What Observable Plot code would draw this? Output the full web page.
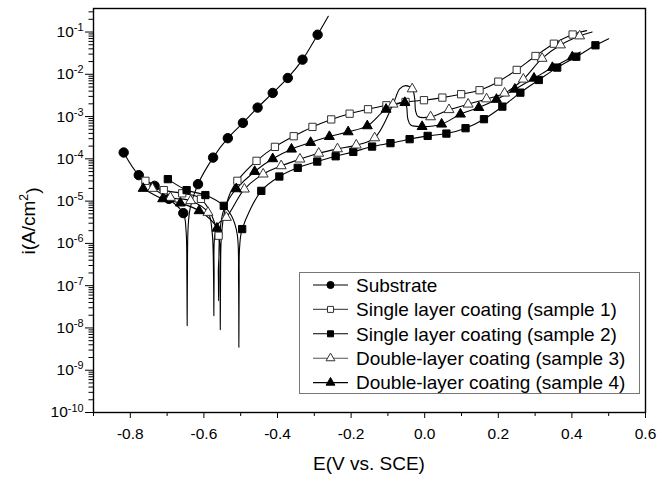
<!DOCTYPE html>
<html><head><meta charset="utf-8">
<script src="https://cdn.jsdelivr.net/npm/d3@7"></script>
<script src="https://cdn.jsdelivr.net/npm/@observablehq/plot@0.6"></script>
<style>
body{margin:0;background:#fff;}
svg{font-family:"Liberation Sans",Arial,sans-serif;}
</style>
</head><body><div id="chart"></div>
<script>
// ---- series names / legend ----
const seriesNames = ["Substrate","Single layer coating (sample 1)","Single layer coating (sample 2)","Double-layer coating (sample 3)","Double-layer coating (sample 4)"];
const seriesSymbols = ["circle","square","square","triangle","triangle"];
const seriesFills = ["black","white","black","white","black"];

// ---- axis ticks ----
const xMajor = [-0.8,-0.6,-0.4,-0.2,0,0.2,0.4,0.6];
const xMinor = [-0.9,-0.7,-0.5,-0.3,-0.1,0.1,0.3,0.5];
const yMajor = [1e-10,1e-9,1e-8,1e-7,1e-6,1e-5,1e-4,1e-3,1e-2,1e-1];
const yMinorMult = [2,3,4,5,6,7,8,9];

// ---- data: E (V vs SCE), i (A/cm2), m = marker shown ----
const subE = [-0.818,-0.777,-0.734,-0.695,-0.656,-0.6485,-0.6462,-0.6455,-0.6448,-0.6428,-0.637,-0.616,-0.575,-0.535,-0.494,-0.454,-0.413,-0.372,-0.332,-0.291,-0.262];
const subI = [1.41e-4,4.12e-5,2.30e-5,1.13e-5,5.2e-6,2.0e-6,1.5e-7,1.13e-8,1.5e-7,2.5e-6,7e-6,2.52e-5,1.07e-4,3.08e-4,7.08e-4,1.63e-3,3.62e-3,8.18e-3,2.22e-2,8.63e-2,0.235];
const subM = [1,1,1,1,1,0,0,0,0,0,0,1,1,1,1,1,1,1,1,1,0];

const s1E = [-0.759,-0.709,-0.659,-0.608,-0.560,-0.5562,-0.5555,-0.5548,-0.553,-0.546,-0.528,-0.509,-0.457,-0.407,-0.356,-0.305,-0.254,-0.204,-0.154,-0.104,-0.052,-0.002,0.048,0.099,0.149,0.200,0.250,0.301,0.351,0.402,0.440];
const s1I = [3.02e-5,1.82e-5,1.53e-5,1.13e-5,1.52e-6,1.2e-7,9.1e-9,1.2e-7,1.2e-6,4.5e-6,1.6e-5,3.02e-5,8.97e-5,1.92e-4,3.43e-4,5.70e-4,8.57e-4,1.17e-3,1.49e-3,1.85e-3,2.22e-3,2.44e-3,2.81e-3,3.38e-3,4.20e-3,6.70e-3,1.27e-2,2.71e-2,5.29e-2,8.73e-2,0.108];
const s1M = [1,1,1,1,1,0,0,0,0,0,0,1,1,1,1,1,1,1,1,1,1,1,1,1,1,1,1,1,1,1,0];

const s2E = [-0.698,-0.647,-0.596,-0.546,-0.525,-0.5095,-0.5058,-0.505,-0.5042,-0.503,-0.496,-0.444,-0.395,-0.345,-0.292,-0.242,-0.194,-0.143,-0.093,-0.041,0.008,0.059,0.111,0.161,0.211,0.260,0.310,0.360,0.412,0.464,0.500];
const s2I = [3.31e-5,1.82e-5,1.39e-5,7.74e-6,4.5e-6,1.66e-6,1.2e-7,3.48e-9,1.2e-7,8e-7,2.18e-6,1.75e-5,3.82e-5,6.13e-5,8.63e-5,1.15e-4,1.46e-4,1.95e-4,2.35e-4,2.92e-4,3.49e-4,3.96e-4,5.31e-4,8.67e-4,1.72e-3,3.68e-3,7.34e-3,1.44e-2,2.61e-2,4.85e-2,6.95e-2];
const s2M = [1,1,1,1,0,0,0,0,0,0,1,1,1,1,1,1,1,1,1,1,1,1,1,1,1,1,1,1,1,1,0];

const s3E = [-0.740,-0.691,-0.636,-0.589,-0.578,-0.5737,-0.573,-0.5723,-0.5705,-0.560,-0.539,-0.490,-0.439,-0.390,-0.339,-0.288,-0.237,-0.186,-0.136,-0.086,-0.068,-0.052,-0.034,-0.027,-0.025,-0.018,0.016,0.066,0.118,0.168,0.217,0.268,0.319,0.369,0.421,0.455];
const s3I = [1.99e-5,1.22e-5,1.02e-5,5.39e-6,2.0e-6,1.5e-7,1.95e-8,1.5e-7,1.5e-6,3.0e-6,4.1e-6,1.92e-5,4.35e-5,6.83e-5,9.83e-5,1.35e-4,1.72e-4,2.11e-4,3.13e-4,1.96e-3,4.5e-3,5.4e-3,4.50e-3,2.6e-3,1.4e-3,1.0e-3,9.82e-4,1.45e-3,1.96e-3,2.61e-3,3.57e-3,7.64e-3,2.37e-2,4.93e-2,8.05e-2,0.1];
const s3M = [1,1,1,1,0,0,0,0,0,0,1,1,1,1,1,1,1,1,1,1,0,0,1,0,0,0,1,1,1,1,1,1,1,1,1,0];

const s4E = [-0.765,-0.712,-0.664,-0.613,-0.5645,-0.5608,-0.560,-0.5592,-0.5575,-0.548,-0.530,-0.512,-0.462,-0.413,-0.362,-0.310,-0.259,-0.208,-0.156,-0.105,-0.054,-0.049,-0.046,-0.038,-0.007,0.046,0.097,0.147,0.195,0.245,0.297,0.347,0.401,0.423];
const s4I = [1.99e-5,1.13e-5,8.97e-6,5.90e-6,2.28e-6,2e-7,4.4e-8,2e-7,1.5e-6,5.5e-6,1.2e-5,1.95e-5,5.01e-5,1.0e-4,1.69e-4,2.43e-4,3.36e-4,4.34e-4,6.02e-4,1.48e-3,2.14e-3,1.7e-3,9e-4,6.3e-4,5.79e-4,6.60e-4,1.14e-3,1.63e-3,2.54e-3,4.42e-3,8.05e-3,1.44e-2,2.56e-2,3.37e-2];
const s4M = [1,1,1,1,1,0,0,0,0,0,0,1,1,1,1,1,1,1,1,1,1,0,0,0,1,1,1,1,1,1,1,1,1,0];

// ---- build table ----
const seriesData = [[subE,subI,subM],[s1E,s1I,s1M],[s2E,s2I,s2M],[s3E,s3I,s3M],[s4E,s4I,s4M]];
const rows = [];
seriesData.forEach(([E,I,M],k) => E.forEach((e,j) => rows.push({s: seriesNames[k], k, E: e, i: I[j], m: M[j]})));

const yMinor = [];
for (const d of yMajor) for (const m of yMinorMult) { const v = d*m; if (v <= 0.36) yMinor.push(v); }

const rFor = {circle: 4.7, square: 4.1, triangle: 3.7};
const dotMarks = seriesNames.map((name,k) => Plot.dot(rows.filter(d => d.k === k && d.m), {
  x: "E", y: "i", symbol: seriesSymbols[k], r: rFor[seriesSymbols[k]],
  fill: seriesFills[k], stroke: seriesFills[k] === "white" ? "#333" : "black", strokeWidth: 1
}));

const chart = Plot.plot({
  width: 668, height: 477,
  marginLeft: 93, marginRight: 23, marginTop: 8, marginBottom: 65,
  x: {domain: [-0.9, 0.6]},
  y: {type: "log", domain: [1e-10, 0.36]},
  style: {fontFamily: "'Liberation Sans', Arial, sans-serif", fontSize: "15.5px", color: "black", background: "white"},
  marks: [
    Plot.axisX(xMajor, {tickSize: 6, tickPadding: 9, tickFormat: d => d.toFixed(1), label: null, fontSize: 15.5}),
    Plot.axisX(xMinor, {tickSize: 4, tickFormat: () => "", label: null}),
    Plot.axisY(yMajor, {tickSize: 8, tickPadding: 2, tickFormat: d => String(Math.round(Math.log10(d))), label: null, fontSize: 15.5}),
    Plot.axisY(yMinor, {tickSize: 4.5, tickFormat: () => "", label: null}),
    Plot.line(rows, {x: "E", y: "i", z: "s", curve: "catmull-rom", stroke: "black", strokeWidth: 1.1}),
    ...dotMarks,
    Plot.frame({stroke: "black", strokeWidth: 1.4})
  ]
});
document.getElementById("chart").appendChild(chart);

// superscript exponents on y tick labels
const svg = d3.select(chart);
svg.selectAll('g[aria-label="y-axis tick label"] text').each(function() {
  const t = d3.select(this);
  const ex = t.text();
  if (!ex) return;
  t.text("");
  t.append("tspan").text("10");
  t.append("tspan").attr("dy", "-0.55em").attr("font-size", "0.7em").text(ex.replace("−","-"));
});

// axis titles
svg.append("text").attr("x", 369).attr("y", 470).attr("text-anchor", "middle")
  .attr("font-size", 19).text("E(V vs. SCE)");
const yl = svg.append("text").attr("transform", "translate(35,221) rotate(-90)").attr("text-anchor", "middle").attr("font-size", 19);
yl.append("tspan").text("i(A/cm");
yl.append("tspan").attr("dy", "-0.6em").attr("font-size", "0.65em").text("2");
yl.append("tspan").attr("dy", "0.6em").text(")");

// legend
const lg = svg.append("g").attr("text-anchor", "start");
lg.append("rect").attr("x", 299.5).attr("y", 272.5).attr("width", 340).attr("height", 121)
  .attr("fill", "white").attr("stroke", "#777").attr("stroke-width", 1);
const legendSizes = {circle: 40, square: 36, triangle: 34};
const symMap = {circle: d3.symbolCircle, square: d3.symbolSquare, triangle: d3.symbolTriangle};
seriesNames.forEach((name,k) => {
  const cy = 285 + k*24.4;
  lg.append("line").attr("x1", 313).attr("x2", 348).attr("y1", cy).attr("y2", cy)
    .attr("stroke", seriesFills[k] === "white" ? "#555" : "black").attr("stroke-width", 1.1);
  lg.append("path").attr("d", d3.symbol(symMap[seriesSymbols[k]], legendSizes[seriesSymbols[k]])())
    .attr("transform", `translate(330.5,${cy})`)
    .attr("fill", seriesFills[k]).attr("stroke", seriesFills[k] === "white" ? "#333" : "black").attr("stroke-width", 1);
  lg.append("text").attr("x", 356).attr("y", cy).attr("dy", "0.36em").attr("text-anchor", "start")
    .attr("font-size", 19).text(name);
});
</script>
</body></html>
